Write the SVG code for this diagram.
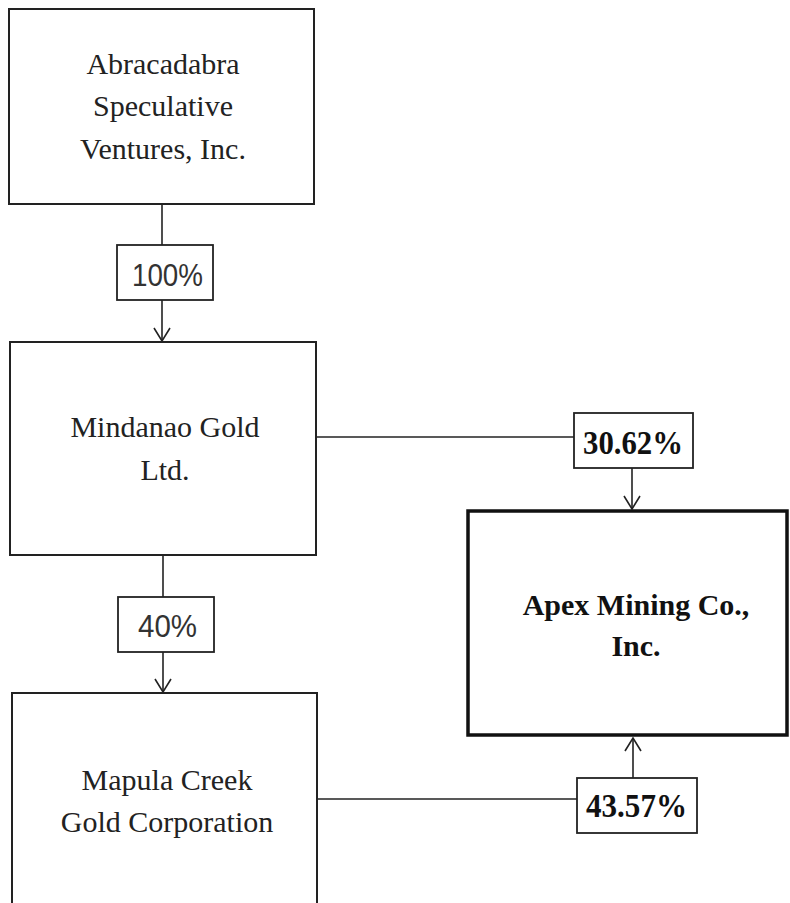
<svg xmlns="http://www.w3.org/2000/svg" width="790" height="903" viewBox="0 0 790 903">
<style>
.box{fill:#fff;stroke:#222;stroke-width:2}
.thick{fill:#fff;stroke:#111;stroke-width:3.5}
.lbl{fill:#fff;stroke:#222;stroke-width:1.8}
.ln{fill:none;stroke:#222;stroke-width:1.6}
.t{font-family:"Liberation Serif","Times New Roman",serif;font-size:30px;fill:#222;text-anchor:middle}
.b{font-family:"Liberation Serif","Times New Roman",serif;font-size:30px;font-weight:bold;fill:#111;text-anchor:middle}
.p{font-family:"Liberation Sans",Arial,sans-serif;font-size:31px;fill:#333}
.pb{font-family:"Liberation Serif","Times New Roman",serif;font-size:34px;font-weight:bold;fill:#111}
</style>
<rect width="790" height="903" fill="#fff"/>
<g id="connectors">
<line class="ln" x1="162" y1="204" x2="162" y2="245"/>
<line class="ln" x1="162" y1="300" x2="162" y2="341"/>
<polyline class="ln" points="154,328 162,341 170,328"/>
<line class="ln" x1="163" y1="555" x2="163" y2="597"/>
<line class="ln" x1="163" y1="652" x2="163" y2="692"/>
<polyline class="ln" points="155,679 163,692 171,679"/>
<line class="ln" x1="316" y1="437" x2="574" y2="437"/>
<line class="ln" x1="632" y1="468" x2="632" y2="509"/>
<polyline class="ln" points="624,496 632,509 640,496"/>
<line class="ln" x1="317" y1="799" x2="577" y2="799"/>
<line class="ln" x1="633" y1="778" x2="633" y2="738"/>
<polyline class="ln" points="625,751 633,738 641,751"/>
</g>
<g id="abracadabra">
<rect class="box" x="9" y="9" width="305" height="195"/>
<text class="t" x="163" y="74">Abracadabra</text>
<text class="t" x="163" y="116">Speculative</text>
<text class="t" x="163" y="159">Ventures, Inc.</text>
</g>
<g id="mindanao">
<rect class="box" x="10" y="342" width="306" height="213"/>
<text class="t" x="165" y="437">Mindanao Gold</text>
<text class="t" x="165" y="480">Ltd.</text>
</g>
<g id="mapula">
<rect class="box" x="12" y="693" width="305" height="220"/>
<text class="t" x="167" y="790">Mapula Creek</text>
<text class="t" x="167" y="832">Gold Corporation</text>
</g>
<g id="apex">
<rect class="thick" x="468" y="511" width="319" height="224"/>
<text class="b" x="636" y="615">Apex Mining Co.,</text>
<text class="b" x="636" y="656">Inc.</text>
</g>
<g id="label-100">
<rect class="lbl" x="117" y="245" width="96" height="55"/>
<text class="p" x="132" y="286" textLength="71" lengthAdjust="spacingAndGlyphs">100%</text>
</g>
<g id="label-40">
<rect class="lbl" x="118" y="597" width="96" height="55"/>
<text class="p" x="138" y="637" textLength="59" lengthAdjust="spacingAndGlyphs">40%</text>
</g>
<g id="label-3062">
<rect class="lbl" x="574" y="413" width="119" height="55"/>
<text class="pb" x="583" y="454" textLength="100" lengthAdjust="spacingAndGlyphs">30.62%</text>
</g>
<g id="label-4357">
<rect class="lbl" x="577" y="778" width="120" height="55"/>
<text class="pb" x="586" y="817" textLength="101" lengthAdjust="spacingAndGlyphs">43.57%</text>
</g>
</svg>
